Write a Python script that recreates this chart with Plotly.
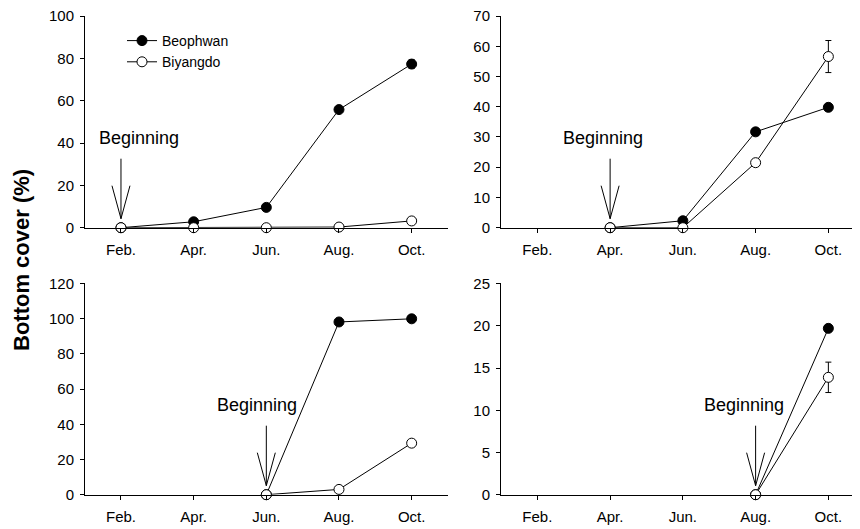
import plotly.graph_objects as go

months = ["Feb.", "Apr.", "Jun.", "Aug.", "Oct."]

# Panel values (None = not yet started)
p1_beophwan = [0, 2.8, 9.6, 55.8, 77.3]
p1_beophwan_err = [0, 0, 0, 0, 2.0]
p1_biyangdo = [0, 0, 0, 0.3, 3.2]
p1_biyangdo_err = [0, 0, 0, 0, 1.5]

p2_beophwan = [None, 0, 2.3, 31.7, 39.8]
p2_beophwan_err = [0, 0, 0, 0, 0.8]
p2_biyangdo = [None, 0, 0, 21.5, 56.6]
p2_biyangdo_err = [0, 0, 0, 0, 5.3]

p3_beophwan = [None, None, 0, 98.2, 100.0]
p3_beophwan_err = [0, 0, 0, 0, 0]
p3_biyangdo = [None, None, 0, 3.0, 29.3]
p3_biyangdo_err = [0, 0, 0, 0, 0]

p4_beophwan = [None, None, None, 0, 19.7]
p4_beophwan_err = [0, 0, 0, 0, 0.3]
p4_biyangdo = [None, None, None, 0, 13.9]
p4_biyangdo_err = [0, 0, 0, 0, 1.8]

start_index = [0, 1, 2, 3]
y_max = [100, 70, 120, 25]
y_ticks = [
    [0, 20, 40, 60, 80, 100],
    [0, 10, 20, 30, 40, 50, 60, 70],
    [0, 20, 40, 60, 80, 100, 120],
    [0, 5, 10, 15, 20, 25],
]

FONT = "Arial, Liberation Sans, sans-serif"

panels = [
    (p1_beophwan, p1_beophwan_err, p1_biyangdo, p1_biyangdo_err),
    (p2_beophwan, p2_beophwan_err, p2_biyangdo, p2_biyangdo_err),
    (p3_beophwan, p3_beophwan_err, p3_biyangdo, p3_biyangdo_err),
    (p4_beophwan, p4_beophwan_err, p4_biyangdo, p4_biyangdo_err),
]

# page has an 8px body margin: figure occupies (8,8)-(860,529)
OFF = 8
W, H = 860 - OFF, 529 - OFF


def px(x):
    return (x - OFF) / W


def py(y):
    return 1 - (y - OFF) / H


x_domains = [[px(85), px(448)], [px(501), 1.0], [px(85), px(448)], [px(501), 1.0]]
x_ranges = [[-0.495, 4.5], [-0.5, 4.435], [-0.495, 4.5], [-0.5, 4.435]]
y_domains = [[py(227.7), py(15.7)], [py(227.7), py(15.7)],
             [py(494.7), py(283.3)], [py(494.7), py(283.3)]]
text_shift = [18, -7, -9, -12]

fig = go.Figure()

for i, (b, be, y, ye) in enumerate(panels):
    xa = "x" if i == 0 else f"x{i+1}"
    ya = "y" if i == 0 else f"y{i+1}"
    fig.add_trace(go.Scatter(
        x=months, y=b, xaxis=xa, yaxis=ya, mode="lines+markers",
        name="Beophwan", showlegend=(i == 0), cliponaxis=False,
        line=dict(color="black", width=1),
        marker=dict(symbol="circle", size=10, color="black", line=dict(color="black", width=1)),
        error_y=dict(type="data", array=be, visible=True, color="black", thickness=1, width=3),
    ))
    fig.add_trace(go.Scatter(
        x=months, y=y, xaxis=xa, yaxis=ya, mode="lines+markers",
        name="Biyangdo", showlegend=(i == 0), cliponaxis=False,
        line=dict(color="black", width=1),
        marker=dict(symbol="circle", size=10, color="white", line=dict(color="black", width=1)),
        error_y=dict(type="data", array=ye, visible=True, color="black", thickness=1, width=3),
    ))
    # arrow "Beginning"
    s = start_index[i]
    fig.add_shape(
        type="path", xref=xa, yref=ya, xsizemode="pixel", ysizemode="pixel",
        xanchor=s, yanchor=0,
        path="M 0,9 L 0,69 M -9,42 L 0,9 L 9,42",
        line=dict(color="black", width=1),
    )
    fig.add_annotation(
        x=s, y=0, xref=xa, yref=ya, text="Beginning", showarrow=False,
        xshift=text_shift[i], yshift=90, yanchor="middle",
        font=dict(family=FONT, size=18, color="black"),
    )

axis_common = dict(
    showline=True, linecolor="black", linewidth=1, showgrid=False, zeroline=False,
    ticks="outside", ticklen=4, tickcolor="black", tickwidth=1,
    tickfont=dict(family=FONT, size=15, color="black"),
    ticklabeloverflow="allow",
)

layout = dict(
    width=W, height=H, plot_bgcolor="white", paper_bgcolor="white",
    margin=dict(l=0, r=0, t=0, b=0, autoexpand=False),
    showlegend=True,
    legend=dict(x=px(122), y=py(25), xanchor="left", yanchor="top",
                bgcolor="rgba(0,0,0,0)", font=dict(family=FONT, size=14, color="black"),
                itemwidth=30, tracegroupgap=0),
)
for i in range(4):
    xk = "xaxis" if i == 0 else f"xaxis{i+1}"
    yk = "yaxis" if i == 0 else f"yaxis{i+1}"
    ya = "y" if i == 0 else f"y{i+1}"
    xa = "x" if i == 0 else f"x{i+1}"
    layout[xk] = dict(axis_common, domain=x_domains[i], range=x_ranges[i], anchor=ya,
                      type="category", categoryorder="array", categoryarray=months,
                      ticklabelstandoff=4)
    layout[yk] = dict(axis_common, domain=y_domains[i], range=[0, y_max[i] * 1.0015],
                      anchor=xa, tickmode="array", tickvals=y_ticks[i],
                      ticktext=[str(v) for v in y_ticks[i]], ticklabelstandoff=3)

fig.update_layout(**layout)

fig.add_annotation(
    x=px(21), y=py(260), xref="paper", yref="paper", text="<b>Bottom cover (%)</b>",
    showarrow=False, textangle=-90, xanchor="center", yanchor="middle",
    font=dict(family=FONT, size=22, color="black"),
)

fig.write_html("out.html")
